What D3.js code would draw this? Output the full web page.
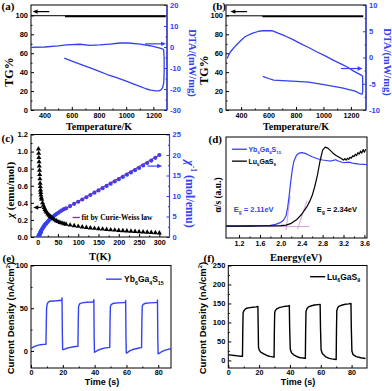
<!DOCTYPE html>
<html><head><meta charset="utf-8">
<script src="https://cdn.jsdelivr.net/npm/d3@7/dist/d3.min.js"></script>
<style>html,body{margin:0;padding:0;background:#fff;overflow:hidden}svg{display:block}</style>
</head><body>
<script>
// ================= DATA =================
// (a) Yb6Ga4S15 thermal analysis
const aTgT = [300, 1290];
const aTgHeat = [99.7, 99.6];
const aTgCoolT = [550, 1290];
const aTgCool = [99.0, 99.0];
const aHeatT = [300,400,500,562,660,734,807,881,954,1016,1102,1175,1248,1275];
const aHeatDTA = [-0.2,0.0,0.5,1.0,1.3,0.8,1.0,1.4,1.9,1.9,1.4,0.6,-0.5,-1.1];
const aCoolT = [1275,1279,1279,1276,1268,1256,1240,1215,1180,1150,1100,1052,1000,930,860,807,750,685,620,545];
const aCoolDTA = [-1.1,-5,-12,-17,-19.3,-20.4,-20.9,-20.9,-20.5,-20.0,-18.8,-17.6,-16.3,-14.6,-13.1,-11.7,-10.3,-8.8,-7.2,-5.3];
const aXTicks = [400,600,800,1000,1200];
const aYTicks = [0,20,40,60,80,100];
const aYRTicks = [-30,-20,-10,0,10,20];

// (b) Lu6GaS9 thermal analysis
const bTgT = [290, 1290];
const bTgHeat = [99.6, 99.5];
const bTgCoolT = [555, 1290];
const bTgCool = [98.9, 98.9];
const bHeatT = [298,320,359,400,431,480,529,565,625,674,720,771,830,892,950,1013,1070,1135,1180,1220,1285];
const bHeatDTA = [-0.2,1.0,2.2,3.3,4.0,4.6,5.0,5.1,5.1,4.6,4.1,3.5,2.7,1.9,1.1,0.3,-0.5,-1.3,-1.9,-2.6,-3.5];
const bCoolT = [1285,1286,1286,1281,1268,1231,1135,1013,892,771,700,638,600,558];
const bCoolDTA = [-3.5,-5.0,-6.5,-7.0,-6.9,-6.4,-5.8,-5.2,-4.7,-4.5,-4.4,-4.3,-4.0,-3.6];
const bXTicks = [400,600,800,1000,1200];
const bYTicks = [0,20,40,60,80,100];
const bYRTicks = [-10,-5,0,5,10];

// (c) magnetic susceptibility
const cT = [2,2.5,3,3.5,4,4.5,5,5.5,6,6.5,7,7.5,8,9,10,12,14,16,18,20,22,25,28,31,34,38,42,46,50,55,60,65,70,80,90,100,110,120,130,140,150,160,170,180,190,200,210,220,230,240,250,260,270,280,290,300];
const cChi = [1.03,0.98,0.93,0.88,0.83,0.78,0.73,0.68,0.63,0.59,0.55,0.52,0.49,0.46,0.44,0.40,0.37,0.345,0.32,0.305,0.29,0.27,0.255,0.24,0.23,0.215,0.2,0.19,0.18,0.17,0.163,0.156,0.15,0.14,0.132,0.125,0.118,0.112,0.106,0.101,0.097,0.092,0.088,0.084,0.08,0.077,0.074,0.071,0.068,0.065,0.062,0.059,0.056,0.053,0.05,0.047];
const cInv = [0.2,0.25,0.3,0.4,0.5,0.6,0.7,0.8,0.9,1.0,1.1,1.2,1.35,1.55,1.8,2.1,2.4,2.7,3.0,3.2,3.4,3.75,4.1,4.4,4.7,5.0,5.3,5.6,5.85,6.2,6.5,6.8,7.0,7.55,8.1,8.6,9.15,9.7,10.25,10.8,11.35,11.9,12.45,13.0,13.55,14.1,14.65,15.2,15.75,16.3,16.85,17.45,18.05,18.65,19.3,20.0];
const cFitT = [50, 300];
const cFit = [5.85, 20.0];
const cXTicks = [0,50,100,150,200,250,300];
const cYTicks = [0,0.2,0.4,0.6,0.8,1.0,1.2];
const cYRTicks = [0,5,10,15,20,25];

// (d) optical absorption
const dE_Yb = [0.95,1.2,1.4,1.6,1.8,1.9,2.0,2.05,2.1,2.13,2.16,2.19,2.22,2.25,2.3,2.35,2.4,2.45,2.5,2.6,2.7,2.8,2.9,2.95,3.0,3.05,3.1,3.2,3.3,3.4,3.5,3.6,3.65];
const dYb = [.121,.121,.122,.123,.126,.135,.155,.175,.22,.30,.42,.56,.68,.76,.82,.84,.845,.84,.83,.805,.785,.772,.765,.762,.768,.775,.762,.745,.752,.738,.732,.728,.727];
const dE_Lu = [0.95,1.2,1.4,1.6,1.8,2.0,2.1,2.2,2.3,2.4,2.5,2.55,2.6,2.65,2.7,2.75,2.8,2.85,2.9,2.95,3.0,3.05,3.1,3.15,3.2,3.225,3.25,3.275,3.3,3.325,3.35,3.375,3.4,3.425,3.45,3.475,3.5,3.525,3.55,3.575,3.6,3.625];
const dLu = [.118,.118,.118,.119,.12,.122,.127,.145,.18,.235,.31,.36,.42,.51,.62,.76,.87,.9,.89,.865,.84,.82,.805,.79,.772,.785,.77,.79,.778,.8,.79,.815,.805,.83,.815,.845,.83,.86,.84,.875,.85,.88];
const dBaseE = [0.95, 2.55];
const dBase = [0.114, 0.114];
const dTanYbE = [2.10, 2.18];
const dTanYb = [0.077, 0.42];
const dTanLuE = [2.32, 2.50];
const dTanLu = [0.088, 0.37];
const dXTicks = [1.2,1.6,2.0,2.4,2.8,3.2,3.6];

// (e) Yb6Ga4S15 photocurrent
const eT = [0,2,4,6,8,9.4,9.6,9.8,10.2,11,12,14,16,18,19.3,19.5,19.7,19.9,20.5,22,24,26,28,29.5,29.7,29.9,30.5,32,35,38,39.3,39.5,39.7,39.9,40.5,42,44,46,48,49.5,49.7,49.9,50.5,52,55,58,59.3,59.5,59.7,59.9,60.5,62,64,66,68,69.5,69.7,69.9,70.5,72,75,78,79.3,79.5,79.7,79.9,80.5,82,84,86,88];
const eJ = [3,5,6.5,7.3,7.6,7.8,30,50,55,57.5,58.2,58.5,58.7,59,59.2,62,20,1.5,1.5,2.8,3.8,4.6,5.1,5.3,35,52,55,56.3,57,57.3,57.5,60,15,-1.5,-1.2,0.8,2.2,3.2,3.9,4.2,35,52,54.5,55.8,56.3,56.5,56.6,59,15,-2.5,-2.2,0,1.6,2.6,3.4,3.8,35,52,54.5,55.8,56.3,56.5,56.6,59.5,15,-3.5,-3,-1,0.6,1.8,2.5];
const eXTicks = [0,20,40,60,80];
const eYTicks = [0,50,100];

// (f) Lu6GaS9 photocurrent
const fT = [0,2,4,6,8,9.2,9.4,9.6,10,11,12,14,16,18,19.2,19.4,19.6,20,21,23,25,27,29.7,29.9,30.1,30.5,31.5,33,35,37,39,39.6,39.8,40.2,41,43,45,47,50,50.2,50.4,51,52,54,56,58,59.6,59.8,60.2,61,63,65,67,70,70.2,70.4,71,72,74,76,78,79.6,79.8,80.2,81,83,86,89];
const fJ = [15,14,13,12,11,10.5,80,125,130,135,137.5,139,140,141,142,90,35,28,22,17,13,10.5,8.5,80,125,131,136,139,141,142.5,143.5,144.5,90,30,20,13,9,7,5.5,80,128,136,141,144,146,147,147.5,90,28,18,10,6,4,2.5,80,130,139,143,146,148,149,150,90,25,15,10,7,5];
const fXTicks = [0,20,40,60,80];
const fYTicks = [0,50,100,150,200,250];

// ================= DRAWING =================
const W = 392, H = 391;
const BLUE = '#3340f5', PURPLE = '#7a2cc0', PINK = '#d8a2dc';
const SERIF = '"Liberation Serif","Times New Roman",serif';
const SANS = '"Liberation Sans",Arial,Helvetica,sans-serif';
const svg = d3.select('body').append('svg').attr('width', W).attr('height', H);
const defs = svg.append('defs');
const zip = (a, b) => a.map((v, i) => [v, b[i]]);

function axis(g, gen, tr, color, fs) {
  const a = g.append('g').attr('transform', tr).call(gen);
  a.attr('font-family', SANS).attr('font-size', fs || 7.5).attr('font-weight', 'bold');
  a.select('.domain').remove();
  a.selectAll('line').attr('stroke', color).attr('stroke-width', 1);
  a.selectAll('text').attr('fill', color);
  return a;
}
const minors = (ticks) => ticks.slice(0, -1).map((v, i) => (v + ticks[i + 1]) / 2);

function panel(o) {
  const g = svg.append('g');
  const x = d3.scaleLinear().domain(o.xd).range([o.l, o.r]);
  const y = d3.scaleLinear().domain(o.yd).range([o.b, o.t]);
  const yr = o.yrd ? d3.scaleLinear().domain(o.yrd).range([o.b, o.t]) : null;
  const xp = o.xp != null ? o.xp : 2.5;
  axis(g, d3.axisBottom(x).tickValues(o.xt).tickSize(-3).tickPadding(xp).tickFormat(o.xf || (d => String(d))), `translate(0,${o.b})`, '#000', 7.2);
  axis(g, d3.axisBottom(x).tickValues(minors(o.xt)).tickSize(-1.5).tickFormat(''), `translate(0,${o.b})`, '#000');
  if (o.yt) {
    axis(g, d3.axisLeft(y).tickValues(o.yt).tickSize(-3).tickPadding(3).tickFormat(o.yf || (d => String(d))), `translate(${o.l},0)`, '#000');
    axis(g, d3.axisLeft(y).tickValues(minors(o.yt)).tickSize(-1.5).tickFormat(''), `translate(${o.l},0)`, '#000');
  }
  if (yr) {
    axis(g, d3.axisRight(yr).tickValues(o.yrt).tickSize(-3).tickPadding(3).tickFormat(d => String(d)), `translate(${o.r},0)`, BLUE);
    axis(g, d3.axisRight(yr).tickValues(minors(o.yrt)).tickSize(-1.5).tickFormat(''), `translate(${o.r},0)`, BLUE);
  }
  g.append('rect').attr('x', o.l).attr('y', o.t).attr('width', o.r - o.l).attr('height', o.b - o.t)
    .attr('fill', 'none').attr('stroke', '#000').attr('stroke-width', 1);
  if (yr) g.append('line').attr('x1', o.r).attr('x2', o.r).attr('y1', o.t).attr('y2', o.b).attr('stroke', BLUE).attr('stroke-width', 1.2);
  const cid = 'clip-' + o.id;
  defs.append('clipPath').attr('id', cid).append('rect').attr('x', o.l).attr('y', o.t).attr('width', o.r - o.l).attr('height', o.b - o.t);
  const plot = g.append('g').attr('clip-path', `url(#${cid})`);
  return { g, plot, x, y, yr };
}

function curve(P, xs, ys, color, width, sy) {
  const yy = sy || P.y;
  P.plot.append('path').datum(zip(xs, ys))
    .attr('d', d3.line().x(d => P.x(d[0])).y(d => yy(d[1])))
    .attr('fill', 'none').attr('stroke', color).attr('stroke-width', width)
    .attr('stroke-linejoin', 'round');
}

function arrow(g, x1, x2, y, color) {
  const dir = Math.sign(x2 - x1);
  g.append('line').attr('x1', x1).attr('x2', x2 - dir * 3).attr('y1', y).attr('y2', y)
    .attr('stroke', color).attr('stroke-width', 1.2);
  g.append('path').attr('d', `M${x2},${y} L${x2 - dir * 5},${y - 2.2} L${x2 - dir * 5},${y + 2.2} Z`).attr('fill', color);
}

function rich(x, y, parts, o) {
  const fs = o.size;
  const t = svg.append('text').attr('font-family', o.family || SANS).attr('font-weight', 'bold')
    .attr('font-size', fs).attr('fill', o.color || '#000').attr('text-anchor', o.anchor || 'start');
  if (o.rotate != null) t.attr('transform', `translate(${x},${y}) rotate(${o.rotate})`);
  else t.attr('x', x).attr('y', y);
  let cur = 0;
  parts.forEach(p => {
    const s = typeof p === 'string' ? { t: p } : p;
    const target = s.sub ? fs * 0.3 : s.sup ? -fs * 0.4 : 0;
    const ts = t.append('tspan').text(s.t).attr('dy', target - cur);
    cur = target;
    if (s.sub || s.sup) ts.attr('font-size', fs * 0.62);
    if (s.italic) ts.attr('font-style', 'italic');
  });
  return t;
}

// ---------- (a) ----------
const A = panel({ id: 'a', l: 31, r: 167, t: 5, b: 110, xd: [300, 1300], yd: [0, 111], yrd: [-30, 20],
  xt: aXTicks, yt: aYTicks, yrt: aYRTicks });
curve(A, aTgT, aTgHeat, '#000', 1);
curve(A, aTgCoolT, aTgCool, '#000', 1.6);
curve(A, aHeatT, aHeatDTA, BLUE, 1.3, A.yr);
curve(A, aCoolT, aCoolDTA, BLUE, 1.3, A.yr);
arrow(A.g, A.x(435), A.x(312), A.y(104), '#000');
arrow(A.g, A.x(1138), A.x(1293), A.yr(1.5), BLUE);

// ---------- (b) ----------
const B = panel({ id: 'b', l: 226, r: 366, t: 5, b: 110, xd: [290, 1310], yd: [0, 111], yrd: [-10, 10],
  xt: bXTicks, yt: bYTicks, yrt: bYRTicks });
curve(B, bTgT, bTgHeat, '#000', 1);
curve(B, bTgCoolT, bTgCool, '#000', 1.6);
curve(B, bHeatT, bHeatDTA, BLUE, 1.3, B.yr);
curve(B, bCoolT, bCoolDTA, BLUE, 1.3, B.yr);
arrow(B.g, B.x(444), B.x(322), B.y(104), '#000');
arrow(B.g, B.x(1127), B.x(1285), B.yr(-2.1), BLUE);

// ---------- (c) ----------
const C = panel({ id: 'c', l: 31, r: 169.5, t: 134.5, b: 237, xd: [-16.4, 325], yd: [0, 1.2], yrd: [0, 25],
  xt: cXTicks, yt: cYTicks, yf: d3.format('.1f'), yrt: cYRTicks });
C.plot.selectAll('circle.inv').data(zip(cT, cInv)).join('circle').attr('class', 'inv')
  .attr('cx', d => C.x(d[0])).attr('cy', d => C.yr(d[1])).attr('r', 2.1).attr('fill', BLUE);
C.plot.selectAll('path.chi').data(zip(cT, cChi)).join('path').attr('class', 'chi')
  .attr('d', d3.symbol(d3.symbolTriangle).size(11))
  .attr('transform', d => `translate(${C.x(d[0])},${C.y(d[1])})`).attr('fill', '#000');
curve(C, cFitT, cFit, PURPLE, 1.1, C.yr);
C.g.append('line').attr('x1', C.x(86)).attr('x2', C.x(104)).attr('y1', C.yr(4.76)).attr('y2', C.yr(4.76))
  .attr('stroke', PURPLE).attr('stroke-width', 1.3);
rich(C.x(108), C.yr(4.76) + 2.6, ['fit by Curie-Weiss law'], { size: 7.5, family: SERIF });
arrow(C.g, C.x(9.8), C.x(-10.8), C.y(0.346), '#000');
arrow(C.g, C.x(270.5), C.x(307), C.yr(17.3), BLUE);

// ---------- (d) ----------
const D = panel({ id: 'd', l: 226, r: 367, t: 137, b: 238, xd: [0.95, 3.65], yd: [0, 1],
  xt: dXTicks, xf: d3.format('.1f') });
curve(D, dBaseE, dBase, PINK, 1);
curve(D, dTanYbE, dTanYb, PINK, 1);
curve(D, dTanLuE, dTanLu, PINK, 1);
curve(D, dE_Yb, dYb, BLUE, 1.2);
curve(D, dE_Lu, dLu, '#000', 1.2);
D.g.append('line').attr('x1', D.x(1.065)).attr('x2', D.x(1.35)).attr('y1', D.y(0.879)).attr('y2', D.y(0.879)).attr('stroke', BLUE).attr('stroke-width', 1.3);
D.g.append('line').attr('x1', D.x(1.065)).attr('x2', D.x(1.35)).attr('y1', D.y(0.761)).attr('y2', D.y(0.761)).attr('stroke', '#000').attr('stroke-width', 1.3);
rich(D.x(1.38), D.y(0.879) + 2.5, ['Yb', { t: '6', sub: 1 }, 'Ga', { t: '4', sub: 1 }, 'S', { t: '15', sub: 1 }], { size: 7, color: BLUE });
rich(D.x(1.38), D.y(0.761) + 2.5, ['Lu', { t: '6', sub: 1 }, 'GaS', { t: '9', sub: 1 }], { size: 7 });
rich(D.x(1.10), D.y(0.26), ['E', { t: 'g', sub: 1 }, ' = 2.11eV'], { size: 7.5, color: BLUE });
rich(D.x(2.69), D.y(0.26), ['E', { t: 'g', sub: 1 }, ' = 2.34eV'], { size: 7.5 });

// ---------- (e) ----------
const E = panel({ id: 'e', l: 31, r: 171, t: 265.5, b: 368, xd: [0, 88], yd: [-20, 100], xt: eXTicks, yt: eYTicks, xp: 1.5 });
curve(E, eT, eJ, BLUE, 1.4);
E.g.append('line').attr('x1', E.x(47.2)).attr('x2', E.x(57)).attr('y1', E.y(84)).attr('y2', E.y(84)).attr('stroke', BLUE).attr('stroke-width', 1.4);
rich(E.x(58.5), E.y(84) + 3, ['Yb', { t: '6', sub: 1 }, 'Ga', { t: '4', sub: 1 }, 'S', { t: '15', sub: 1 }], { size: 8.5 });

// ---------- (f) ----------
const F = panel({ id: 'f', l: 228.3, r: 367, t: 265.5, b: 368, xd: [0, 90], yd: [-20, 250], xt: fXTicks, yt: fYTicks, xp: 1.5 });
curve(F, fT, fJ, '#000', 1.4);
F.g.append('line').attr('x1', F.x(53.1)).attr('x2', F.x(62.9)).attr('y1', F.y(220.5)).attr('y2', F.y(220.5)).attr('stroke', '#000').attr('stroke-width', 1.4);
rich(F.x(64), F.y(220.5) + 3, ['Lu', { t: '6', sub: 1 }, 'GaS', { t: '9', sub: 1 }], { size: 8.5 });

// ---------- titles & labels ----------
const lbl = (x, y, s) => rich(x, y, [s], { size: 11, family: SERIF });
lbl(1.5, 10, '(a)'); lbl(212.5, 10, '(b)'); lbl(1.5, 141.5, '(c)');
lbl(208.5, 143, '(d)'); lbl(2.5, 262, '(e)'); lbl(203.5, 261.5, '(f)');

rich(99, 130, ['Temperature/K'], { size: 10, family: SERIF, anchor: 'middle' });
rich(296, 130, ['Temperature/K'], { size: 10, family: SERIF, anchor: 'middle' });
rich(100, 259.5, ['T(K)'], { size: 10.5, family: SERIF, anchor: 'middle' });
rich(296, 260.5, ['Energy(eV)'], { size: 10.5, family: SERIF, anchor: 'middle' });
rich(102, 385, ['Time (s)'], { size: 9, anchor: 'middle' });
rich(298, 385, ['Time (s)'], { size: 9, anchor: 'middle' });

rich(13, 72, ['TG%'], { size: 12, family: SERIF, anchor: 'middle', rotate: -90 });
rich(208, 70, ['TG%'], { size: 12, family: SERIF, anchor: 'middle', rotate: -90 });
rich(188.5, 63, ['DTA/(mW/mg)'], { size: 10.5, family: SERIF, anchor: 'middle', rotate: 90, color: BLUE });
rich(383.5, 62, ['DTA/(mW/mg)'], { size: 10.5, family: SERIF, anchor: 'middle', rotate: 90, color: BLUE });
rich(14, 190, [{ t: 'χ', italic: 1 }, ' (emu/mol)'], { size: 11, family: SERIF, anchor: 'middle', rotate: -90 });
rich(186, 194, [{ t: 'χ', italic: 1 }, { t: '-1', sup: 1 }, ' (mol/emu)'], { size: 12, family: SERIF, anchor: 'middle', rotate: 90, color: BLUE });
rich(220.5, 195, ['α/s (a.u.)'], { size: 9.5, family: SERIF, anchor: 'middle', rotate: -90 });
rich(14, 318, ['Current Density (nA/cm', { t: '2', sup: 1 }, ')'], { size: 9.5, anchor: 'middle', rotate: -90 });
rich(206, 318, ['Current Density (nA/cm', { t: '2', sup: 1 }, ')'], { size: 9.5, anchor: 'middle', rotate: -90 });
</script>
</body></html>
